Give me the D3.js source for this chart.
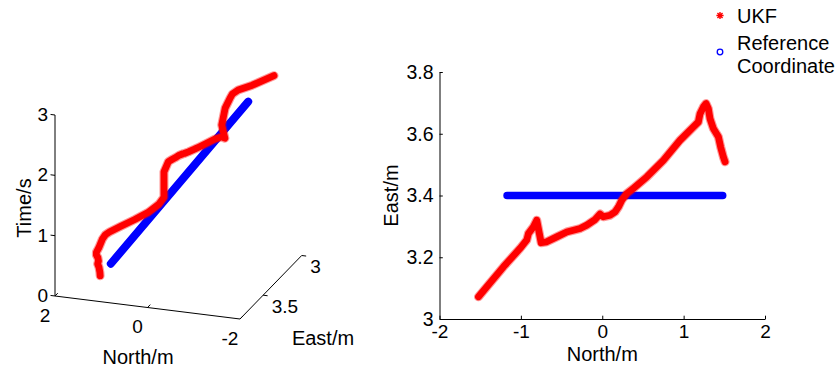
<!DOCTYPE html>
<html>
<head>
<meta charset="utf-8">
<script src="https://cdn.jsdelivr.net/npm/d3@7"></script>
<style>
  html, body { margin: 0; padding: 0; background: #fff; }
  svg { display: block; font-family: "Liberation Sans", Arial, Helvetica, sans-serif; }
</style>
</head>
<body>
<svg id="chart" width="837" height="371"></svg>
<script>
// UKF track: north (m), east (m) and time (s), in time order
const ukfNorth = [1.509, 1.488, 1.455, 1.427, 1.365, 1.324, 1.304, 1.275, 1.243, 1.202,
                  1.181, 1.120, 0.956, 0.751, 0.547, 0.383, 0.301, 0.301, 0.240, 0.199,
                  0.158, 0.096, 0.014, -0.027, -0.088, -0.190, -0.272, -0.436, -0.559, -0.682,
                  -0.751, -0.805, -0.845, -0.907, -0.927, -1.009, -1.214, -1.521];
const ukfEast  = [3.509, 3.525, 3.557, 3.590, 3.617, 3.649, 3.681, 3.698, 3.687, 3.665,
                  3.638, 3.622, 3.579, 3.514, 3.460, 3.423, 3.406, 3.406, 3.385, 3.363,
                  3.347, 3.336, 3.331, 3.340, 3.322, 3.304, 3.293, 3.282, 3.266, 3.250,
                  3.247, 3.320, 3.299, 3.277, 3.256, 3.229, 3.169, 3.072];
const ukfTime  = [0.00, 0.08, 0.21, 0.31, 0.40, 0.50, 0.59, 0.66, 0.72, 0.84,
                  0.88, 0.91, 0.96, 1.01, 1.08, 1.18, 1.28, 1.70, 1.85, 1.86,
                  1.87, 1.90, 1.93, 1.95, 1.96, 1.99, 2.02, 2.09, 2.14, 2.17,
                  2.15, 2.47, 2.73, 2.86, 2.91, 2.95, 2.97, 3.03];

// Reference coordinate, plan view
const refNorth = [-1.17, 1.48];
const refEast  = [3.4, 3.4];

// Reference coordinate, 3-D view
const ref3North = [1.46, -1.51];
const ref3East  = [3.4, 3.4];
const ref3Time  = [0.06, 3.03];

// Tick values
const planNorthTicks = [-2, -1, 0, 1, 2];
const planEastTicks  = [3, 3.2, 3.4, 3.6, 3.8];
const cubeTimeTicks  = [0, 1, 2, 3];
const cubeNorthTicks = [2, 0, -2];
const cubeEastTicks  = [3, 3.5];

const legendItems = ["UKF", "Reference", "Coordinate"];

const RED = "#ff0000", BLUE = "#0000ff";
const svg = d3.select("#chart");
svg.append("rect").attr("width", 837).attr("height", 371).attr("fill", "#fff");

const fmt = d => String(d);
const idx = d3.range(ukfNorth.length);

// ---------------- 3-D view (north, east, time) ----------------
const cube = svg.append("g");
const origin = { x: 55, y: 296 };
const nX = d3.scaleLinear().domain([2, -2]).range([0, 185]);
const nY = d3.scaleLinear().domain([2, -2]).range([0, 23]);
const eX = d3.scaleLinear().domain([3.8, 3]).range([0, 61.7]);
const eY = d3.scaleLinear().domain([3.8, 3]).range([0, -63.5]);
const tY = d3.scaleLinear().domain([0, 3]).range([0, -181]);
const proj = (n, e, t) => [origin.x + nX(n) + eX(e), origin.y + nY(n) + eY(e) + tY(t)];

const unit = (a, b) => { const dx = b[0] - a[0], dy = b[1] - a[1], l = Math.hypot(dx, dy); return [dx / l, dy / l]; };
const dirN = unit(proj(-2, 3.8, 0), proj(2, 3.8, 0));   // toward north +
const dirBack = unit(proj(2, 3.8, 0), proj(2, 3, 0));   // toward east -
const dirS = unit(proj(2, 3.8, 0), proj(-2, 3.8, 0));   // toward north -

const axisStyle = sel => sel.attr("stroke", "#000").attr("stroke-width", 1).attr("fill", "none");

function axis3(ticks, at, from, to, dir, len, labelPos, anchor) {
  const a = at(from), b = at(to);
  cube.append("line").attr("x1", a[0]).attr("y1", a[1]).attr("x2", b[0]).attr("y2", b[1]).call(axisStyle);
  ticks.forEach(v => {
    const p = at(v);
    cube.append("line").attr("x1", p[0]).attr("y1", p[1])
      .attr("x2", p[0] + dir[0] * len).attr("y2", p[1] + dir[1] * len).call(axisStyle);
    const lp = labelPos(p);
    cube.append("text").attr("x", lp[0]).attr("y", lp[1]).attr("text-anchor", anchor)
      .attr("font-size", 19).attr("fill", "#000").text(fmt(v));
  });
}

axis3(cubeTimeTicks, t => proj(2, 3.8, t), 0, 3, dirN, 4.5, p => [p[0] - 7, p[1] + 6], "end");
axis3(cubeNorthTicks, n => proj(n, 3.8, 0), 2, -2, dirBack, 4, p => [p[0] - 10, p[1] + 25.5], "middle");
axis3(cubeEastTicks, e => proj(-2, e, 0), 3.8, 3, dirS, 4.5, p => [p[0] + 8.5, p[1] + 17.5], "start");

cube.append("text").attr("transform", "translate(31,208) rotate(-90)")
  .attr("text-anchor", "middle").attr("font-size", 20).text("Time/s");
cube.append("text").attr("x", 138).attr("y", 364)
  .attr("text-anchor", "middle").attr("font-size", 20).text("North/m");
cube.append("text").attr("x", 323).attr("y", 345)
  .attr("text-anchor", "middle").attr("font-size", 20).text("East/m");

const ref3Line = d3.line()
  .x(i => proj(ref3North[i], ref3East[i], ref3Time[i])[0])
  .y(i => proj(ref3North[i], ref3East[i], ref3Time[i])[1]);
cube.append("path").attr("d", ref3Line(d3.range(ref3North.length)))
  .attr("fill", "none").attr("stroke", BLUE).attr("stroke-width", 8)
  .attr("stroke-linecap", "round").attr("stroke-linejoin", "round");

const ukf3Line = d3.line()
  .x(i => proj(ukfNorth[i], ukfEast[i], ukfTime[i])[0])
  .y(i => proj(ukfNorth[i], ukfEast[i], ukfTime[i])[1]);
[[9, 0.4], [6.8, 1]].forEach(([w, o]) => {
  cube.append("path").attr("d", ukf3Line(idx))
    .attr("fill", "none").attr("stroke", RED).attr("stroke-width", w).attr("stroke-opacity", o)
    .attr("stroke-linecap", "round").attr("stroke-linejoin", "round");
});

// ---------------- Plan view (north vs east) ----------------
const x = d3.scaleLinear().domain([-2, 2]).range([439.5, 765]);
const y = d3.scaleLinear().domain([3, 3.8]).range([319, 72]);
const plan = svg.append("g");

plan.append("g").attr("transform", `translate(0,${y(3)})`)
  .call(d3.axisBottom(x).tickValues(planNorthTicks).tickFormat(fmt).tickSizeInner(-3.3).tickSizeOuter(0).tickPadding(6))
  .call(g => g.selectAll("text").attr("font-size", 19).attr("fill", "#000").attr("font-family", null))
  .call(g => g.selectAll("line, path").attr("stroke", "#000"));
plan.append("g").attr("transform", `translate(${x(-2)},0)`)
  .call(d3.axisLeft(y).tickValues(planEastTicks).tickFormat(fmt).tickSizeInner(-3.3).tickSizeOuter(0).tickPadding(6))
  .call(g => g.selectAll("text").attr("font-size", 19.5).attr("fill", "#000").attr("font-family", null))
  .call(g => g.selectAll("line, path").attr("stroke", "#000"));
plan.selectAll(".domain").attr("stroke-width", 1);

plan.append("text").attr("x", (x(-2) + x(2)) / 2).attr("y", 361)
  .attr("text-anchor", "middle").attr("font-size", 20).text("North/m");
plan.append("text").attr("transform", `translate(398,${(y(3) + y(3.8)) / 2}) rotate(-90)`)
  .attr("text-anchor", "middle").attr("font-size", 20).text("East/m");

const refLine = d3.line().x(i => x(refNorth[i])).y(i => y(refEast[i]));
plan.append("path").attr("d", refLine(d3.range(refNorth.length)))
  .attr("fill", "none").attr("stroke", BLUE).attr("stroke-width", 7.5).attr("stroke-linecap", "round");

const ukfLine = d3.line().x(i => x(ukfNorth[i])).y(i => y(ukfEast[i]));
[[9, 0.4], [6.8, 1]].forEach(([w, o]) => {
  plan.append("path").attr("d", ukfLine(idx))
    .attr("fill", "none").attr("stroke", RED).attr("stroke-width", w).attr("stroke-opacity", o)
    .attr("stroke-linecap", "round").attr("stroke-linejoin", "round");
});

// ---------------- Legend ----------------
const legend = svg.append("g");
const star = d3.path();
const sx = 720, sy = 15.5, sr = 3.6;
[[1, 0], [0, 1], [0.707, 0.707], [0.707, -0.707]].forEach(([dx, dy]) => {
  star.moveTo(sx - dx * sr, sy - dy * sr); star.lineTo(sx + dx * sr, sy + dy * sr);
});
legend.append("path").attr("d", star.toString()).attr("stroke", RED).attr("stroke-width", 1.4).attr("fill", "none");
legend.append("circle").attr("cx", 720).attr("cy", 52).attr("r", 2.8)
  .attr("fill", "none").attr("stroke", BLUE).attr("stroke-width", 1.3);
legend.selectAll("text.item").data(legendItems).join("text").attr("class", "item")
  .attr("x", 737).attr("y", (d, i) => [22.5, 50, 73][i])
  .attr("font-size", 20).attr("fill", "#000").text(d => d);
</script>
</body>
</html>
